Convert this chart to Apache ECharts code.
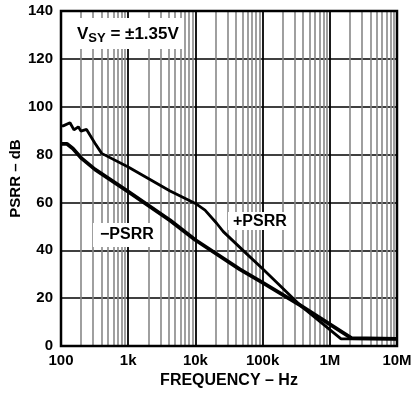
<!DOCTYPE html>
<html>
<head>
<meta charset="utf-8">
<script src="https://cdn.jsdelivr.net/npm/echarts@6/dist/echarts.min.js"></script>
<style>
  html, body { margin: 0; padding: 0; background: #fff; }
  #chart { width: 411px; height: 394px; }
</style>
</head>
<body>
<div id="chart"></div>
<script>
// +PSRR (upper curve at low frequency)
var plusFreq = [100, 108, 136, 156, 181, 198, 240, 320, 403, 1000, 4200, 10000, 13900, 20700, 26000, 58000, 100000, 360000, 1470000, 10000000];
var plusDb = [92, 92, 93.3, 90.3, 91.6, 89.8, 90.5, 84.7, 80.5, 74.8, 64.8, 59.6, 56.8, 51.3, 47.8, 38.5, 32.3, 17.1, 3.0, 3.0];

// -PSRR
var minusFreq = [100, 122, 150, 203, 320, 1000, 4200, 10000, 46000, 100000, 360000, 2100000, 10000000];
var minusDb = [84.5, 84.5, 82.5, 78.4, 73.8, 64.5, 52.5, 44.3, 32, 26.5, 17.1, 3.3, 3.0];

var xTickLabels = { 100: '100', 1000: '1k', 10000: '10k', 100000: '100k', 1000000: '1M', 10000000: '10M' };

var font = "'Liberation Sans', Arial, sans-serif";

function pairs(xs, ys) {
  return xs.map(function (x, i) { return [x, ys[i]]; });
}

// minor vertical grid lines 2..9 in each decade
var minorLines = [];
for (var d = 100; d < 10000000; d *= 10) {
  for (var k = 2; k <= 9; k++) minorLines.push({ xAxis: d * k });
}

var myChart = echarts.init(document.getElementById('chart'));
myChart.setOption({
  animation: false,
  grid: { left: 61, right: 14, top: 11, bottom: 48, containLabel: false, outerBoundsMode: 'none' },
  xAxis: {
    type: 'log',
    logBase: 10,
    min: 100,
    max: 10000000,
    name: 'FREQUENCY – Hz',
    nameLocation: 'middle',
    nameGap: 26,
    nameTextStyle: { color: '#000', fontWeight: 'bold', fontSize: 16, fontFamily: font },
    axisLine: { show: false },
    axisTick: { show: false },
    axisLabel: {
      color: '#000', fontWeight: 'bold', fontSize: 15, fontFamily: font, margin: 7,
      formatter: function (v) { return xTickLabels[Math.round(v)] || ''; }
    },
    splitLine: { show: true, lineStyle: { color: '#000', width: 1.8 } },
    minorTick: { show: false },
    minorSplitLine: { show: false }
  },
  yAxis: {
    type: 'value',
    min: 0,
    max: 140,
    interval: 20,
    name: 'PSRR – dB',
    nameLocation: 'middle',
    nameGap: 38,
    nameMoveOverlap: false,
    nameTextStyle: { color: '#000', fontWeight: 'bold', fontSize: 15, fontFamily: font },
    axisLine: { show: false },
    axisTick: { show: false },
    axisLabel: { color: '#000', fontWeight: 'bold', fontSize: 15, fontFamily: font, margin: 8 },
    splitLine: { show: true, lineStyle: { color: '#000', width: 1.6 } }
  },
  graphic: [
    {
      type: 'rect', z: 10,
      shape: { x: 61, y: 11, width: 336, height: 335 },
      style: { fill: 'none', stroke: '#000', lineWidth: 2.5 }
    },
    {
      type: 'rect', z: 10,
      shape: { x: 63, y: 18, width: 120, height: 31 },
      style: { fill: '#fff' }
    },
    {
      type: 'text', z: 11, x: 77, y: 34,
      style: {
        text: '{m|V}{s|SY}{m| = ±1.35V}',
        verticalAlign: 'middle',
        rich: {
          m: { fontSize: 17, fontWeight: 'bold', fontFamily: font, fill: '#000' },
          s: { fontSize: 13, fontWeight: 'bold', fontFamily: font, fill: '#000', padding: [8, 0, 0, 0] }
        }
      }
    },
    {
      type: 'rect', z: 10,
      shape: { x: 93, y: 223, width: 67, height: 24 },
      style: { fill: '#fff' }
    },
    {
      type: 'text', z: 11, x: 100, y: 235,
      style: { text: '−PSRR', fontSize: 16, fontWeight: 'bold', fontFamily: font, fill: '#000', verticalAlign: 'middle' }
    },
    {
      type: 'rect', z: 10,
      shape: { x: 228, y: 212, width: 60, height: 18 },
      style: { fill: '#fff' }
    },
    {
      type: 'text', z: 11, x: 233, y: 222,
      style: { text: '+PSRR', fontSize: 16, fontWeight: 'bold', fontFamily: font, fill: '#000', verticalAlign: 'middle' }
    }
  ],
  series: [
    {
      name: 'minorGrid',
      type: 'line',
      data: [],
      silent: true,
      z: 1,
      markLine: {
        silent: true,
        symbol: ['none', 'none'],
        label: { show: false },
        lineStyle: { color: '#888', width: 1.6, type: 'solid' },
        data: minorLines
      }
    },
    {
      name: '-PSRR',
      type: 'line',
      z: 5,
      data: pairs(minusFreq, minusDb),
      showSymbol: false,
      lineStyle: { color: '#000', width: 3.8 }
    },
    {
      name: '+PSRR',
      type: 'line',
      z: 5,
      data: pairs(plusFreq, plusDb),
      showSymbol: false,
      lineStyle: { color: '#000', width: 2.8 }
    }
  ]
});
</script>
</body>
</html>
